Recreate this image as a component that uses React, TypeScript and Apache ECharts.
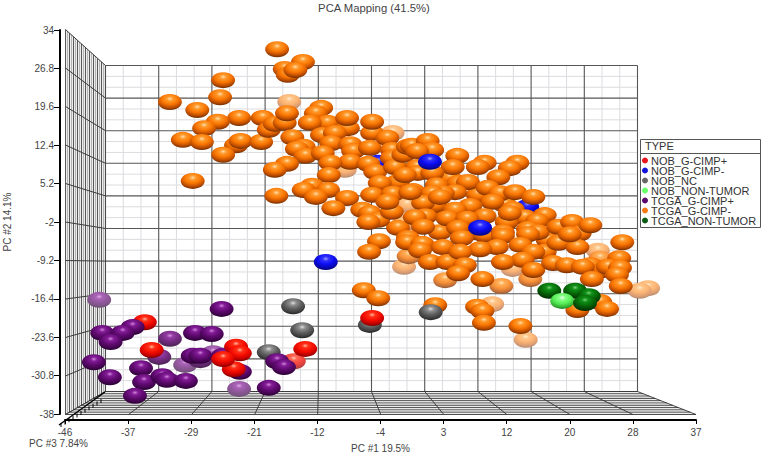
import React, { useEffect, useRef } from "react";
import * as echarts from "echarts";

const FONT = "Liberation Sans";
const TITLE = "PCA Mapping (41.5%)";
const X_TICKS = [-46, -37.7, -29.4, -21.1, -12.8, -4.5, 3.8, 12.1, 20.4, 28.7, 37];
const Y_TICKS = [34, 26.8, 19.6, 12.4, 5.2, -2, -9.2, -16.4, -23.6, -30.8, -38];
const LEGEND_NAMES = ["NOB_G-CIMP+", "NOB_G-CIMP-", "NOB_NC", "NOB_NON-TUMOR", "TCGA_G-CIMP+", "TCGA_G-CIMP-", "TCGA_NON-TUMOR"];
const LEGEND_DOTS = ["#e8141c", "#1414d8", "#666666", "#66ff66", "#5a0a6a", "#f47a14", "#0a5a14"];

const orangeFar = [[-16.5,20.5],[-2.9,14.7],[-9.2,7.8],[-1.0,1.2],[-1.5,-2.4],[-1.4,-10.4],[12.9,-10.8],[10.2,-17.4],[14.6,-24.1],[24.1,-7.4],[30.7,-14.4],[29.6,-14.9]];
const orangeMid = [[-0.8,-8.4],[4.0,-12.9],[11.4,-14.0],[15.2,-12.7],[24.4,-8.9]];
const orangeBehind = [[3.3,0.3],[8.3,3.1],[7.9,-3.9],[-2.2,5.5],[3.3,-3.9],[11.9,1.2],[17.5,-5.4],[17.1,-7.6],[9.2,-4.4],[-2.2,-3.1],[23.1,-10.1],[24.8,-11.0],[4.6,6.2],[2.7,1.2]];
const orangeNear = [
  [-18.1,30.4],[-14.7,28.0],[-17.1,26.7],[-16.7,25.6],[-15.7,26.5],[-25.2,24.6],[-25.6,21.4],[-32.2,20.5],[-28.6,19.0],[-23.1,17.5],
  [-20.0,17.5],[-25.9,16.8],[-27.7,15.6],[-30.5,13.4],[-28.0,13.0],[-23.5,12.4],[-22.9,13.2],[-20.2,13.0],[-25.2,10.6],[-29.2,5.7],
  [-19.2,15.3],[-18.4,16.4],[-17.1,16.6],[-16.8,18.4],[-12.3,19.4],[-13.0,18.4],[-11.5,16.6],[-13.8,16.6],[-8.8,15.6],[-8.9,17.5],
  [-5.6,14.7],[-5.6,16.8],[-16.1,13.9],[-12.2,14.3],[-10.5,14.7],[-14.6,12.1],[-15.5,11.7],[-14.4,10.4],[-11.0,12.8],[-12.1,10.9],
  [-8.5,12.6],[-8.1,11.3],[-5.9,11.9],[-8.5,9.3],[-11.1,9.1],[-16.8,8.9],[-18.4,7.8],[-11.3,6.8],[-6.1,8.9],[-5.2,7.4],
  [-4.6,5.3],[-3.6,13.8],[-3.0,11.5],[-3.0,10.0],[-2.6,8.3],[-1.5,10.6],[-0.9,12.1],[-0.4,12.3],[1.7,13.2],[2.3,11.5],
  [0.3,11.3],[5.6,10.4],[0.3,8.3],[5.0,8.3],[0.4,7.2],[2.3,7.2],[-1.3,6.8],[9.2,9.1],[8.3,8.3],[13.5,9.1],
  [12.5,8.1],[11.0,6.4],[5.7,5.3],[7.0,5.5],[2.9,4.9],[9.6,4.4],[5.3,3.6],[3.7,3.4],[-0.2,3.8],[2.3,3.4],
  [11.2,3.4],[13.2,3.6],[15.6,2.7],[10.2,1.8],[1.1,1.6],[7.3,1.0],[12.9,0.4],[5.3,0.3],[14.5,-1.1],[9.2,-0.9],
  [1.4,-0.9],[17.1,-0.7],[4.3,-1.3],[0.0,-1.1],[6.9,-1.4],[12.1,-2.0],[16.1,-1.8],[1.1,-2.9],[5.7,-3.1],[11.6,-3.9],
  [14.9,-3.3],[16.2,-3.9],[-13.5,4.8],[-14.6,4.0],[-11.4,4.0],[-13.0,2.7],[-18.2,2.9],[-8.9,2.5],[-5.6,3.1],[-2.9,3.3],
  [-0.6,3.6],[-10.7,0.6],[-6.9,0.3],[-5.9,-0.3],[-4.8,-1.6],[-6.1,-2.0],[-3.0,-0.1],[-3.6,1.8],[3.3,2.7],[-4.7,-5.6],
  [-6.0,-7.6],[-0.9,-5.0],[-1.0,-5.8],[1.0,-6.1],[0.7,-7.3],[3.7,-6.7],[2.0,-9.5],[4.3,-9.5],[6.2,-5.0],[11.6,-4.6],
  [14.9,-4.3],[13.9,-6.3],[10.8,-6.7],[8.6,-7.1],[6.0,-7.6],[18.9,-2.9],[20.7,-2.0],[21.7,-4.1],[23.1,-2.6],[18.9,-5.9],
  [21.4,-6.7],[15.6,-7.6],[14.2,-9.1],[11.6,-9.5],[15.6,-11.0],[6.6,-10.1],[5.7,-11.6],[18.2,-9.7],[20.0,-10.1],[22.1,-10.4],
  [8.9,-12.7],[27.3,-5.8],[26.9,-8.8],[25.4,-10.4],[27.0,-10.6],[26.6,-11.9],[23.3,-12.7],[27.1,-14.0],[12.5,-0.3],[20.4,-4.3],
  [-6.7,-14.8],[-4.8,-16.3],[2.7,-17.6],[8.2,-17.9],[8.9,-18.7],[9.1,-20.9],[13.9,-21.5],[24.4,-17.0],[21.4,-18.5],[25.3,-18.3],
];
const blueBack = [[-4.8,9.1],[14.8,0.8]];
const blueFront = [[2.0,9.3],[8.6,-3.1],[-11.7,-9.5]];
const grayPts = [[-16.0,-17.8],[-14.8,-22.3],[-19.2,-26.4],[-5.9,-21.3],[2.1,-18.9]];
const redBack = [[-35.5,-20.8]];
const redBackMid = [[-15.9,-28.1]];
const purpleFar = [[-41.5,-16.6],[-30.2,-28.8],[-26.5,-26.6],[-23.1,-33.3]];
const purpleMid = [[-32.2,-23.9],[-33.6,-27.3],[-28.2,-27.9]];
const purpleNear = [[-41.1,-22.8],[-37.1,-21.7],[-38.4,-22.8],[-40.0,-24.5],[-28.9,-22.8],[-26.7,-23.0],[-25.4,-18.3],[-42.2,-28.3],[-36.0,-29.4],[-40.1,-31.1],[-35.6,-32.0],[-33.2,-30.9],[-32.6,-31.6],[-30.1,-31.8],[-36.8,-34.6],[-29.2,-27.1],[-28.2,-27.1],[-25.2,-27.1],[-23.0,-30.1],[-19.2,-33.1],[-18.1,-28.1],[-17.2,-29.2]];
const redFront = [[-34.6,-26.0],[-23.5,-25.4],[-23.0,-26.6],[-23.8,-29.6],[-25.2,-27.7],[-14.4,-25.8],[-5.6,-20.0]];
const greenBack = [[17.7,-14.9],[21.1,-14.9]];
const lightGreen = [[19.4,-16.8]];
const greenFront = [[22.9,-15.9],[22.4,-17.2]];

const ORANGE = ["#ffe0b0", "#ff9a2c", "#f87400", "#b84a00", "#5c2600"];
const BLUE = ["#a0a0ff", "#3030ff", "#0c0cf0", "#0808b0", "#000060"];
const GRAY = ["#e0e0e0", "#909090", "#606060", "#404040", "#1c1c1c"];
const PURPLE = ["#d088d8", "#841c98", "#600a70", "#42044e", "#22002a"];
const RED = ["#ffb8a0", "#ff3018", "#f40c00", "#c00000", "#680000"];
const DKGREEN = ["#78d078", "#109018", "#066a08", "#044404", "#012401"];
const LTGREEN = ["#f0fff0", "#88ff88", "#58f058", "#38b838", "#187018"];

function mix(hex: string, f: number) {
  const n = parseInt(hex.slice(1), 16);
  const c = [(n >> 16) & 255, (n >> 8) & 255, n & 255].map((v) => Math.round(v + (255 - v) * f));
  return `rgb(${c[0]},${c[1]},${c[2]})`;
}
function ball(p: string[], fade: number) {
  return new echarts.graphic.RadialGradient(0.5, 0.3, 0.74, [
    { offset: 0, color: mix(p[0], fade) },
    { offset: 0.18, color: mix(p[1], fade) },
    { offset: 0.48, color: mix(p[2], fade) },
    { offset: 0.76, color: mix(p[3], fade) },
    { offset: 1, color: mix(p[4], fade) },
  ]);
}
function pts(list: number[][], p: string[], fade: number) {
  const color = ball(p, fade);
  return list.map((value) => ({ value, itemStyle: { color } }));
}
function sc(name: string, data: any[]) {
  return { type: "scatter", name, data, symbol: "circle", symbolSize: [24, 16], clip: false, silent: true, itemStyle: { opacity: 1 } };
}

function seg(x1: number, y1: number, x2: number, y2: number, stroke: string, lineWidth = 1) {
  return { type: "line", silent: true, z: 1, shape: { x1, y1, x2, y2 }, style: { stroke, lineWidth } };
}
function wallGraphics() {
  const out: any[] = [];
  const L = 105.5, R = 637.5, T = 65.5, B = 391.5;
  const FL = 65.5, FR = 696, FT = 29.5, FB = 414.5;
  const dark = "#565656", light = "#dcdce0";
  out.push({ type: "polygon", silent: true, z: 0, shape: { points: [[FL, FT], [L, T], [L, B], [FL, FB]] }, style: { fill: "#ececec" } });
  out.push({ type: "polygon", silent: true, z: 0, shape: { points: [[L, B], [R, B], [FR, FB], [FL, FB]] }, style: { fill: "#d8d8d8" } });
  const dx = (R - L) / 10, dy = (B - T) / 10;
  for (let i = 0; i < 10; i++) {
    for (const f of [1 / 3, 2 / 3]) {
      out.push(seg(L + (i + f) * dx, T, L + (i + f) * dx, B, light));
      out.push(seg(L, T + (i + f) * dy, R, T + (i + f) * dy, light));
    }
  }
  for (let i = 0; i <= 10; i++) {
    out.push(seg(L + i * dx, T, L + i * dx, B, dark, 1.1));
    out.push(seg(L, T + i * dy, R, T + i * dy, dark, 1.1));
  }
  // left wall
  const wallTop = (x: number) => FT + ((x - FL) / (L - FL)) * (T - FT);
  const wallBot = (x: number) => FB + ((x - FL) / (L - FL)) * (B - FB);
  for (let i = 0; i <= 20; i++) {
    const x = FL + ((L - FL) * i) / 20;
    out.push(seg(x, wallTop(x), x, wallBot(x), i % 2 ? "#b4b4b4" : "#484848", i % 2 ? 1 : 0.9));
  }
  const fy = (FB - FT) / 10;
  for (let i = 0; i <= 10; i++) {
    out.push(seg(FL, FT + i * fy, L, T + i * dy, "#3c3c3c", 1));
  }
  // floor
  for (let i = 0; i <= 20; i++) {
    const t = i / 20;
    const y = B + (FB - B) * t;
    const xl = L + (FL - L) * t, xr = R + (FR - R) * t;
    out.push(seg(xl, y, xr, y, i % 2 ? "#f0f0f0" : "#3a3a3a", i % 2 ? 1 : 0.9));
  }
  const fdx = (FR - FL) / 10;
  for (let i = 0; i <= 10; i++) {
    out.push(seg(L + i * dx, B, FL + i * fdx, FB, "#333333", 0.9));
  }
  // depth axis
  out.push(seg(59, 425, 105, 392, "#000000", 1.4));
  for (let i = 0; i <= 10; i++) {
    const x = 61 + i * 4, y = 423 - (i * 24) / 10;
    out.push(seg(x, y, x, y + 4, "#000000", 1));
  }
  // legend box
  out.push({ type: "rect", silent: true, z: 1, shape: { x: 640.5, y: 139.5, width: 120, height: 88 }, style: { fill: "#fff", stroke: "#555", lineWidth: 1 } });
  out.push(seg(640.5, 153.5, 760.5, 153.5, "#555", 1));
  out.push({ type: "text", silent: true, z: 3, x: 645, y: 146, style: { text: "TYPE", font: `11px "${FONT}"`, fill: "#333", verticalAlign: "middle" } });
  out.push({ type: "text", silent: true, z: 3, x: 29, y: 443, style: { text: "PC #3 7.84%", font: `10px "${FONT}"`, fill: "#444", verticalAlign: "middle" } });
  return out;
}

export default function App() {
  const ref = useRef<HTMLDivElement>(null);
  useEffect(() => {
    const chart = echarts.init(ref.current!, undefined, { renderer: "svg" });
    const labelStyle = { fontFamily: FONT, fontSize: 10, color: "#444" };
    chart.setOption({
      animation: false,
      backgroundColor: "#fff",
      textStyle: { fontFamily: FONT },
      title: { text: TITLE, left: 374, textAlign: "center", top: 2, padding: 0, textStyle: { fontFamily: FONT, fontSize: 11.3, fontWeight: "normal", color: "#444" } },
      grid: { left: 65, right: 68, top: 30, bottom: 41, outerBoundsMode: "none" },
      xAxis: {
        type: "value", min: -46, max: 37, offset: 6,
        name: "PC #1 19.5%", nameLocation: "middle", nameGap: 23,
        nameTextStyle: labelStyle,
        axisLine: { show: true, onZero: false, lineStyle: { color: "#000", width: 2 } },
        axisTick: { show: true, length: 4, customValues: X_TICKS, lineStyle: { color: "#000", width: 1 } },
        axisLabel: { ...labelStyle, margin: 7, customValues: X_TICKS, formatter: (v: number) => String(Math.trunc(v)) },
        splitLine: { show: false },
      },
      yAxis: {
        type: "value", min: -38, max: 34, offset: 5,
        name: "PC #2 14.1%", nameLocation: "middle", nameGap: 48,
        nameTextStyle: labelStyle,
        axisLine: { show: true, onZero: false, lineStyle: { color: "#000", width: 2 } },
        axisTick: { show: true, length: 6, customValues: Y_TICKS, lineStyle: { color: "#000", width: 1 } },
        axisLabel: { ...labelStyle, margin: 6, customValues: Y_TICKS, formatter: (v: number) => String(v) },
        splitLine: { show: false },
      },
      legend: {
        orient: "vertical", left: 642, top: 155, padding: 0, itemGap: -1, itemWidth: 6, itemHeight: 6,
        selectedMode: false, icon: "circle",
        textStyle: { fontFamily: FONT, fontSize: 11, lineHeight: 9, color: "#333", padding: [0, 0, 0, -2] },
        data: LEGEND_NAMES.map((name, i) => ({ name, icon: "circle", itemStyle: { color: LEGEND_DOTS[i] } })),
        z: 5,
      },
      graphic: { elements: wallGraphics() },
      series: [
        sc(LEGEND_NAMES[1], pts(blueBack, BLUE, 0)),
        sc(LEGEND_NAMES[5], [...pts(orangeFar, ORANGE, 0.45), ...pts(orangeMid, ORANGE, 0.22), ...pts(orangeBehind, ORANGE, 0), ...pts(orangeNear, ORANGE, 0)]),
        sc(LEGEND_NAMES[1], pts(blueFront, BLUE, 0)),
        sc(LEGEND_NAMES[2], pts(grayPts, GRAY, 0)),
        sc(LEGEND_NAMES[0], [...pts(redBack, RED, 0), ...pts(redBackMid, RED, 0.25)]),
        sc(LEGEND_NAMES[4], [...pts(purpleFar, PURPLE, 0.32), ...pts(purpleMid, PURPLE, 0.14), ...pts(purpleNear, PURPLE, 0)]),
        sc(LEGEND_NAMES[0], pts(redFront, RED, 0)),
        sc(LEGEND_NAMES[6], pts(greenBack, DKGREEN, 0)),
        sc(LEGEND_NAMES[3], pts(lightGreen, LTGREEN, 0)),
        sc(LEGEND_NAMES[6], pts(greenFront, DKGREEN, 0)),
      ],
    });
    return () => chart.dispose();
  }, []);
  return <div ref={ref} style={{ position: "absolute", left: 0, top: 0, width: 764, height: 455 }} />;
}
